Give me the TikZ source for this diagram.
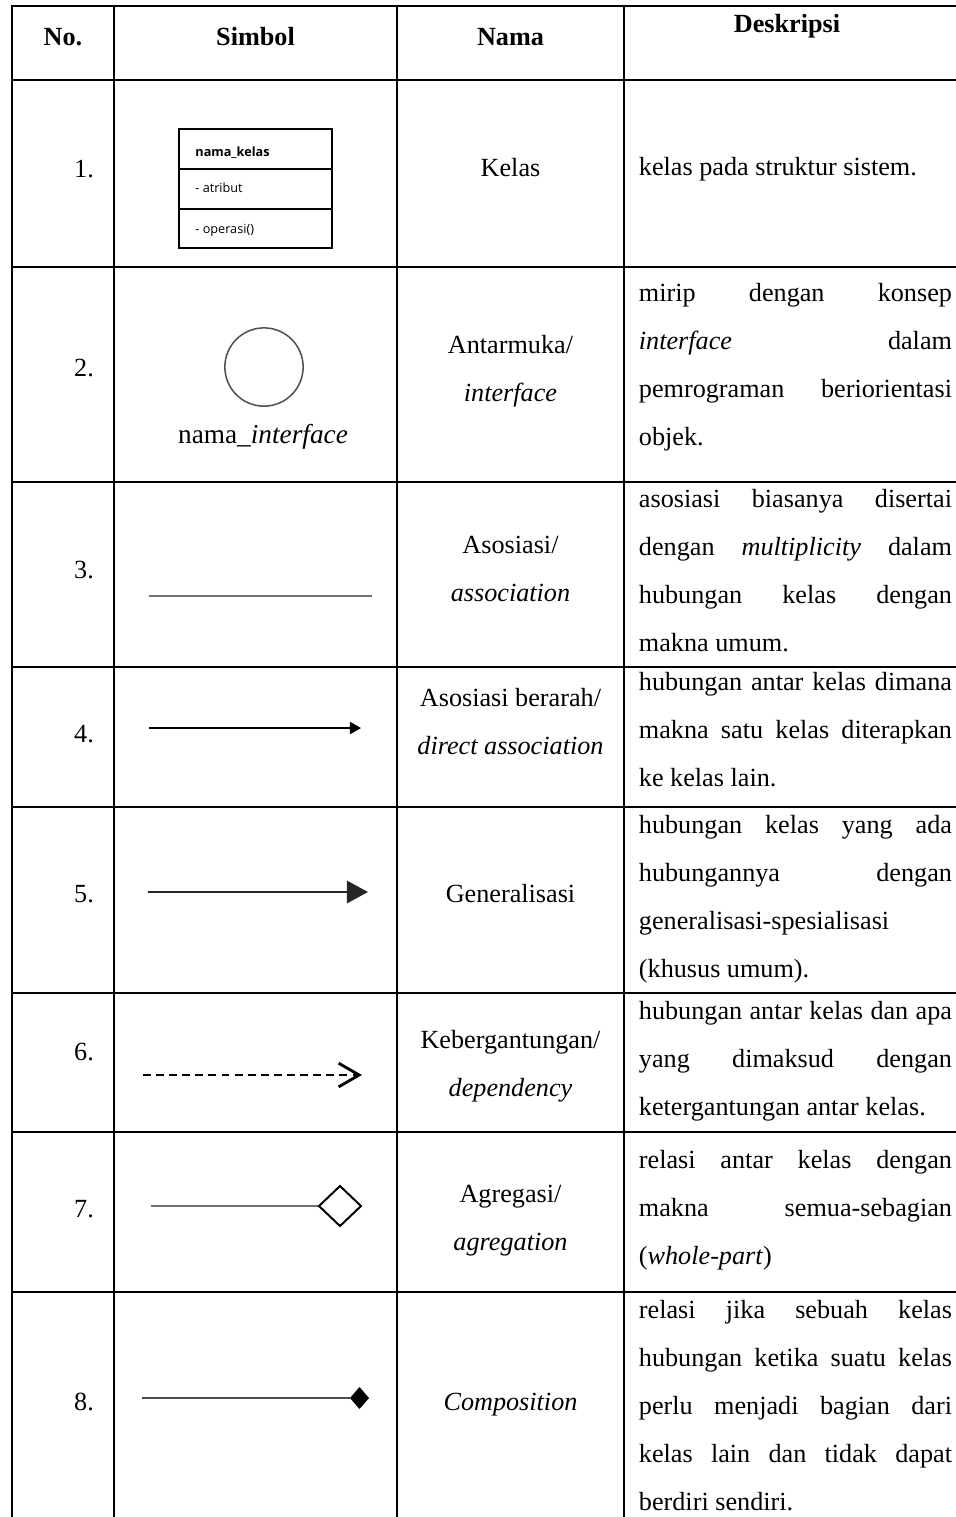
\documentclass[tikz,border=0pt]{standalone}
\usepackage{fontspec}
\setmainfont{Liberation Serif}
\newfontfamily\umlfont{Open Sans}
\usetikzlibrary{arrows.meta}
\definecolor{symgray}{HTML}{707070}
\definecolor{ringgray}{HTML}{505050}

\begin{document}
\begin{tikzpicture}[x=0.0161cm,y=-0.0161cm,
     grid/.style={line width=1.1pt,line cap=rect},
     cell/.style={inner sep=0pt,anchor=north,
       font=\fontsize{12}{22}\selectfont},
     onel/.style={cell,execute at begin node={\noindent\strut}},
     head/.style={onel,font=\fontsize{12}{22}\selectfont\bfseries},
     desc/.style={onel,anchor=north west,text width=5.04cm,align=justify,
       execute at begin node={\tolerance=10000\hbadness=10000}},
     uml/.style={inner sep=0pt,anchor=base west,
       font=\umlfont\fontsize{5.8}{7}\selectfont}]

          \useasboundingbox (0,0) rectangle (956,1517);

          % table lines
          \foreach \x in {12,114,397,624}
          \draw[grid] (\x,6) -- (\x,1530);
          \foreach \y in {6,80,267,482,667,807,993,1132,1292}
          \draw[grid] (12,\y) -- (970,\y);

          \node[head] (hNo) at (63,11) {No.};
          \node[head] (hSimbol) at (255.5,11) {Simbol};
          \node[head] (hNama) at (510.5,11) {Nama};
          \node[head] (hDeskripsi) at (787,-2) {Deskripsi};

          \foreach \n/\t in {1/143,2/342,3/544,4/708,5/868,6/1026,7/1183,8/1376}
          \node[onel] (no\n) at (84,\t) {\n.};

          {
          \draw[line width=.55pt] (179,129) rectangle (332,248);
          \draw[line width=.55pt] (179,169) -- (332,169);
          \draw[line width=.55pt] (179,209) -- (332,209);
          \node[uml] (kelasNama) at (195,156) {\bfseries nama\_kelas};
          \node[uml] (kelasAtribut) at (195,192) {- atribut};
          \node[uml] (kelasOperasi) at (195,233) {- operasi()};
          }

          {
          \draw[ringgray,line width=.7pt] (264,367) circle (0.63cm);
          \node[inner sep=0pt,anchor=base,font=\fontsize{12.5}{15}\selectfont]
          (ifaceNama) at (263,443) {nama\_\emph{interface}};
          }

          \coordinate (a3) at (149,596); \coordinate (b3) at (372,596);
          \coordinate (a4) at (149,728); \coordinate (b4) at (361,728);
          \coordinate (a5) at (148,892); \coordinate (b5) at (368,892);
          \coordinate (a6) at (143,1075); \coordinate (b6) at (362,1075);
          \coordinate (a7) at (151,1206); \coordinate (b7) at (319,1206);
          \coordinate (a8) at (142,1398); \coordinate (b8) at (350,1398);

          \draw[symgray,line width=.7pt] (a3) -- (b3); % asosiasi
          \draw[line width=.8pt,-{Triangle[length=0.18cm,width=0.2cm]}]
          (a4) -- (b4);
          \draw[black!85,line width=1.1pt,-{Triangle[length=0.34cm,width=0.36cm]}]
          (a5) -- (b5);
          \draw[line width=1.3pt,dash pattern=on 3.6pt off 2.4pt,
          -{Straight Barb[length=0.33cm,width=0.38cm]}] (a6) -- (b6);

          \draw[symgray,line width=.7pt] (a7) -- (b7); % agregasi
          \draw[line width=.9pt,fill=white] (b7) -- (340,1186) -- (361,1206)
          -- (340,1226) -- cycle;

          \draw[black!70,line width=.9pt] (a8) -- (b8); % komposisi
          \fill (b8) -- (359.5,1387) -- (369,1398) -- (359.5,1409) -- cycle;

          \node[onel] (nm1) at (510.5,142) {Kelas};
          \node[cell,align=center] (nm2) at (510.5,319)
          {\strut Antarmuka/\\\emph{interface}};
          \node[cell,align=center] (nm3) at (510.5,519)
          {\strut Asosiasi/\\\emph{association}};
          \node[cell,align=center] (nm4) at (510.5,672)
          {\strut Asosiasi berarah/\\\emph{direct association}};
          \node[onel] (nm5) at (510.5,868) {Generalisasi};
          \node[cell,align=center] (nm6) at (510.5,1014)
          {\strut Kebergantungan/\\\emph{dependency}};
          \node[cell,align=center] (nm7) at (510.5,1168)
          {\strut Agregasi/\\\emph{agregation}};
          \node[onel] (nm8) at (510.5,1376) {\emph{Composition}};

          \node[desc] (ds1) at (638.5,141) {kelas pada struktur sistem.};
          \node[desc] (ds2) at (638.5,267) {mirip dengan konsep\linebreak
            \emph{interface} dalam\linebreak pemrograman
            beriorientasi\linebreak objek.};
          \node[desc] (ds3) at (638.5,473) {asosiasi biasanya
            disertai\linebreak dengan \emph{multiplicity} dalam\linebreak
            hubungan kelas dengan\linebreak makna umum.};
          \node[desc] (ds4) at (638.5,656) {hubungan antar kelas
            dimana\linebreak makna satu kelas diterapkan\linebreak ke
            kelas lain.};
          \node[desc] (ds5) at (638.5,799) {hubungan kelas yang
            ada\linebreak hubungannya dengan\linebreak
            generalisasi-spesialisasi\newline (khusus umum).};
          \node[desc] (ds6) at (638.5,985) {hubungan antar kelas dan
            apa\linebreak yang dimaksud dengan\linebreak ketergantungan
            antar kelas.};
          \node[desc] (ds7) at (638.5,1134) {relasi antar kelas
            dengan\linebreak makna semua-sebagian\linebreak
            (\emph{whole-part})};
          \node[desc] (ds8) at (638.5,1284) {relasi jika sebuah
            kelas\linebreak hubungan ketika suatu kelas\linebreak perlu
            menjadi bagian dari\linebreak kelas lain dan tidak
            dapat\linebreak berdiri sendiri.};
        \end{tikzpicture}
\end{document}
